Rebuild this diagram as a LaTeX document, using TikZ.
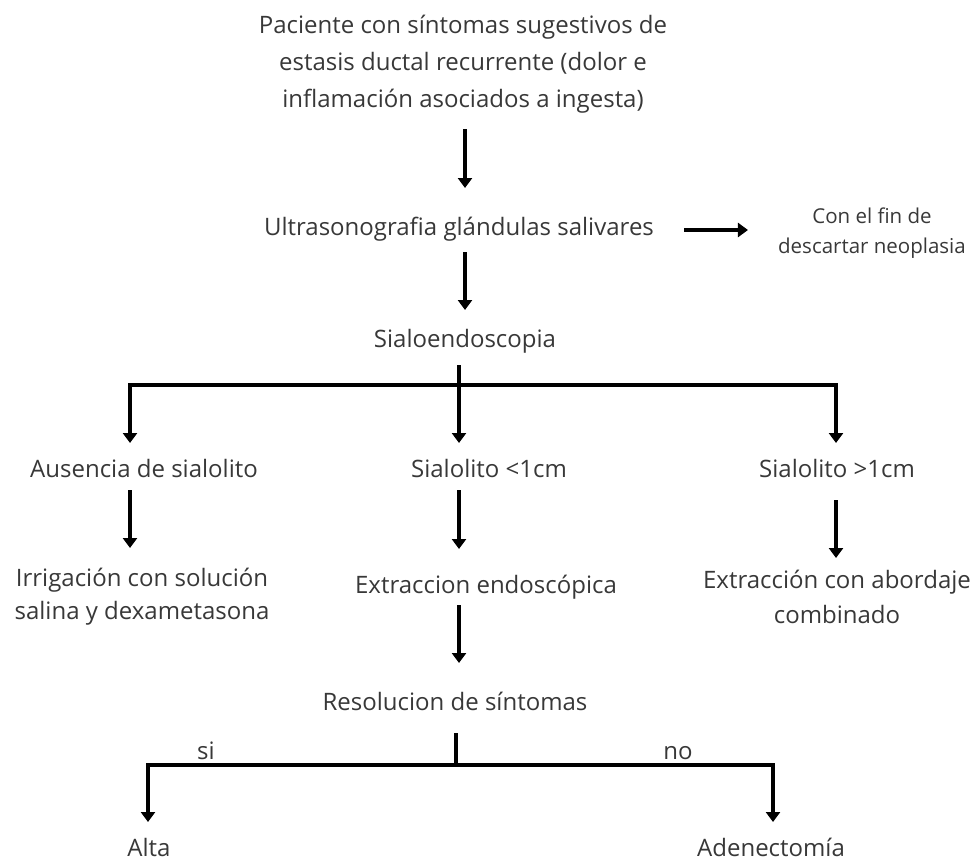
\documentclass[tikz,border=0pt]{standalone}
\usepackage{fontspec}
\setmainfont{Open Sans}
\usetikzlibrary{arrows.meta}

\begin{document}
\begin{tikzpicture}[x=1pt,y=-1pt]
    \tikzstyle{stage}=[text=black!78,align=center,inner sep=0pt,anchor=base,font=\fontsize{24}{34}\selectfont]
    \tikzstyle{note}=[text=black!78,align=center,inner sep=0pt,anchor=base,font=\fontsize{20.5}{30}\selectfont]
    \tikzstyle{edge} = [draw,line width=3.2pt,-{Triangle[length=10pt,width=14pt]}]
    \tikzstyle{edge2} = [draw,line width=3.2pt,-]

    \useasboundingbox (0,0) rectangle (975,862);

    \node[stage,font=\fontsize{24}{37}\selectfont] (patient) at (463,107) {Paciente con síntomas sugestivos de\\estasis ductal recurrente (dolor e\\inflamación asociados a ingesta)};
    \node[stage] (ultra) at (459,235) {Ultrasonografia glándulas salivares};
    \node[note] (purpose) at (872,253) {Con el fin de\\descartar neoplasia};
    \node[stage] (sialo) at (465,347) {Sialoendoscopia};

    \node[stage] (absent) at (144,477) {Ausencia de sialolito};
    \node[stage] (small) at (489,477) {Sialolito <1cm};
    \node[stage] (large) at (837,477) {Sialolito >1cm};

    \node[stage,font=\fontsize{24}{33}\selectfont] (irrig) at (142,619) {Irrigación con solución\\salina y dexametasona};
    \node[stage] (endo) at (486,593) {Extraccion endoscópica};
    \node[stage,font=\fontsize{24}{35}\selectfont] (combined) at (837,623) {Extracción con abordaje\\combinado};

    \node[stage] (resol) at (455,710) {Resolucion de síntomas};
    \node[stage] (discharge) at (149,856) {Alta};
    \node[stage] (adenect) at (771,856) {Adenectomía};

    \coordinate (split) at (459,385);
    \coordinate (splitL) at (130,385);
    \coordinate (splitR) at (836,385);
    \coordinate (fork) at (456,765);
    \coordinate (forkL) at (148,765);
    \coordinate (forkR) at (773,765);

    \path[edge] ([yshift=-22pt]patient.base -| sialo.base) to ([yshift=47pt]ultra.base -| sialo.base);
    \path[edge,shorten <=30pt,shorten >=30pt] ([yshift=5pt]ultra.base east) to ([yshift=5pt]ultra.base east -| purpose.west);
    \path[edge] ([yshift=-17pt]ultra.base -| sialo.base) to ([yshift=37pt]sialo.base);

    \path[edge2] ([yshift=-18pt]sialo.base -| split) to (split);
    \path[edge] (split) -| ([yshift=34pt]absent.base -| splitL);
    \path[edge] (split) -| ([yshift=34pt]large.base -| splitR);
    \path[edge] (split) to ([yshift=34pt]small.base -| split);

    \path[edge] ([yshift=-13pt]absent.base -| splitL) to ([yshift=71pt]irrig.base -| splitL);
    \path[edge] ([yshift=-13pt]small.base -| split) to ([yshift=44pt]endo.base -| split);
    \path[edge] ([yshift=-23pt]large.base -| splitR) to ([yshift=65pt]combined.base -| splitR);

    \path[edge] ([yshift=-12pt]endo.base -| split) to ([yshift=47pt]resol.base -| split);

    \path[edge2] ([yshift=-23pt]resol.base -| fork) to (fork);
    \path[edge] (fork) -| ([yshift=34pt]discharge.base -| forkL);
    \path[edge] (fork) -| ([yshift=34pt]adenect.base -| forkR);

    \node[stage] (yes) at (206,759) {si};
    \node[stage] (no) at (678,759) {no};
\end{tikzpicture}
\end{document}
